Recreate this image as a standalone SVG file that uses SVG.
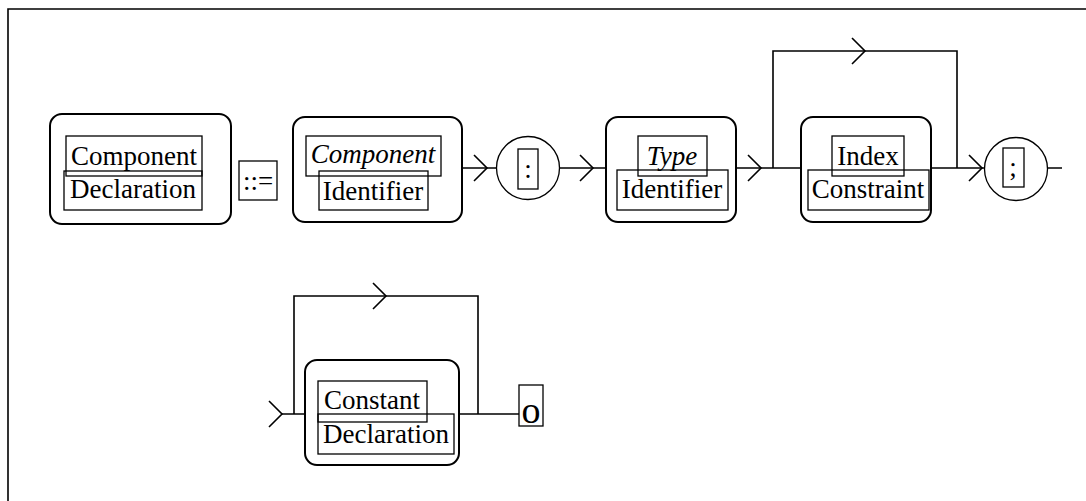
<svg xmlns="http://www.w3.org/2000/svg" width="1086" height="501" viewBox="0 0 1086 501">
<style>
.outer{fill:#fff;stroke:#000;stroke-width:2}
.inner{fill:none;stroke:#000;stroke-width:1.3}
.ln{fill:none;stroke:#000;stroke-width:1.6}
.t{font-family:"Liberation Serif","Times New Roman",serif;font-size:27px;fill:#000;text-anchor:middle}
.i{font-style:italic}
.big{font-size:38px}
</style>
<rect width="1086" height="501" fill="#fff"/>
<polyline class="ln" points="8,501 8,9 1086,9"/>
<g id="connectors">
<path class="ln" d="M462,168H497M559,168H606M736,168H801M931,168H985M1047,168H1062"/>
<path class="ln" d="M773,168V51H957V168"/>
<path class="ln" d="M474,155L487,168L474,181M580,155L593,168L580,181M748,155L761,168L748,181M852,38L865,51L852,64M969,155L982,168L969,181"/>
<path class="ln" d="M282,414H305M459,414H519"/>
<path class="ln" d="M294,414V296H478V414"/>
<path class="ln" d="M269,401L282,414L269,427M373,283L386,296L373,309"/>
</g>
<g id="component-declaration">
<rect class="outer" x="50" y="114" width="181" height="110" rx="12"/>
<rect class="inner" x="66" y="136" width="136" height="40"/>
<rect class="inner" x="64" y="171" width="138" height="39"/>
<text class="t" x="134" y="165">Component</text>
<text class="t" x="133" y="198">Declaration</text>
</g>
<g id="defines">
<rect class="inner" x="239" y="161" width="38" height="39"/>
<text class="t" x="258" y="190">::=</text>
</g>
<g id="component-identifier">
<rect class="outer" x="293" y="117" width="169" height="105" rx="12"/>
<rect class="inner" x="306" y="136" width="135" height="40"/>
<rect class="inner" x="319" y="171" width="109" height="39"/>
<text class="t i" x="373" y="163">Component</text>
<text class="t" x="373" y="200">Identifier</text>
</g>
<g id="colon">
<circle class="inner" cx="528" cy="168" r="31.5"/>
<rect class="inner" x="518" y="149" width="20" height="40"/>
<text class="t" x="528" y="178">:</text>
</g>
<g id="type-identifier">
<rect class="outer" x="606" y="117" width="130" height="105" rx="12"/>
<rect class="inner" x="638" y="136" width="69" height="40"/>
<rect class="inner" x="617" y="170" width="111" height="40"/>
<text class="t i" x="672" y="165">Type</text>
<text class="t" x="672" y="198">Identifier</text>
</g>
<g id="index-constraint">
<rect class="outer" x="801" y="117" width="130" height="105" rx="12"/>
<rect class="inner" x="832" y="136" width="72" height="40"/>
<rect class="inner" x="808" y="170" width="121" height="40"/>
<text class="t" x="868" y="165">Index</text>
<text class="t" x="868" y="198">Constraint</text>
</g>
<g id="semicolon">
<circle class="inner" cx="1016" cy="169" r="31.5"/>
<rect class="inner" x="1003" y="148" width="21" height="39"/>
<text class="t" x="1013" y="176">;</text>
</g>
<g id="constant-declaration">
<rect class="outer" x="305" y="360" width="154" height="105" rx="12"/>
<rect class="inner" x="318" y="381" width="109" height="41"/>
<rect class="inner" x="318" y="414" width="136" height="40"/>
<text class="t" x="372" y="409">Constant</text>
<text class="t" x="386" y="443">Declaration</text>
</g>
<g id="o-terminal">
<rect class="inner" x="519" y="385" width="24" height="41"/>
<text class="t big" x="531" y="423">o</text>
</g>
</svg>
